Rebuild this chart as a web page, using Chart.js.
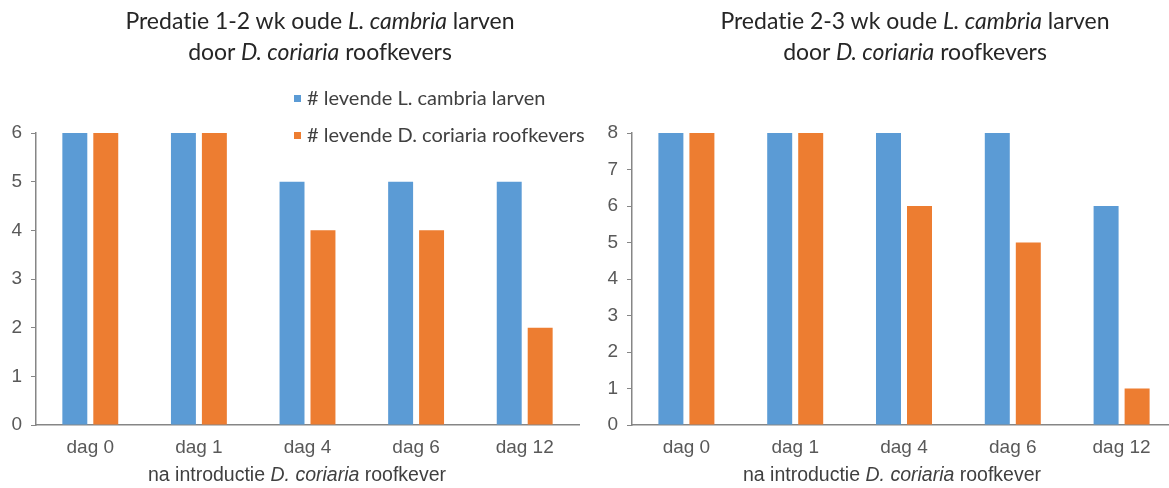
<!DOCTYPE html>
<html>
<head>
<meta charset="utf-8">
<script src="https://cdn.jsdelivr.net/npm/chart.js@4.4.1/dist/chart.umd.min.js"></script>
<style>
  body { margin: 0; width: 1169px; height: 488px; overflow: hidden; background: #fff; position: relative; font-variant-ligatures: none; }
  .panel { position: absolute; top: 0; height: 488px; }
  .title { position: absolute; width: 560px; text-align: center; font-family: Lato, sans-serif; font-size: 23px; line-height: 31px; color: #262626; top: 5px; }
  .xtitle { position: absolute; width: 460px; text-align: center; font-family: "Liberation Sans", Arial, sans-serif; font-size: 19.5px; color: #404040; top: 463px; }
  #legend { position: absolute; left: 294px; top: 84px; font-family: Lato, sans-serif; font-size: 20px; color: #404040; }
  #legend div { height: 37px; line-height: 26px; white-space: nowrap; }
  #legend span { display: inline-block; width: 7px; height: 7px; margin-right: 6px; vertical-align: 3px; }
</style>
</head>
<body>
<div class="panel" style="left:0;width:585px"><canvas id="chartA" width="585" height="488"></canvas></div>
<div class="panel" style="left:585px;width:600px"><canvas id="chartB" width="600" height="488"></canvas></div>

<div class="title" style="left:40px">Predatie 1-2 wk oude <i>L. cambria</i> larven<br>door <i>D. coriaria</i> roofkevers</div>
<div class="title" style="left:635px">Predatie 2-3 wk oude <i>L. cambria</i> larven<br>door <i>D. coriaria</i> roofkevers</div>
<div class="xtitle" style="left:67px">na introductie <i>D. coriaria</i> roofkever</div>
<div class="xtitle" style="left:662px">na introductie <i>D. coriaria</i> roofkever</div>
<div id="legend"></div>

<script>
const categories = ['dag 0', 'dag 1', 'dag 4', 'dag 6', 'dag 12'];
const seriesNames = ['# levende L. cambria larven', '# levende D. coriaria roofkevers'];

// 1-2 weken oude larven
const larvenA = [6, 6, 5, 5, 5];
const keversA = [6, 6, 4, 4, 2];
// 2-3 weken oude larven
const larvenB = [8, 8, 8, 8, 6];
const keversB = [8, 8, 6, 5, 1];

const yMaxA = 6;
const yMaxB = 8;

const BLUE = '#5B9BD5';
const ORANGE = '#ED7D31';
const AXIS = '#868686';
const TICK_FONT = { family: '"Liberation Sans", Arial, sans-serif', size: 19 };

function makeChart(id, larven, kevers, yMax, axisWidth, padRight) {
  const ctx = document.getElementById(id).getContext('2d');
  return new Chart(ctx, {
    type: 'bar',
    data: {
      labels: categories,
      datasets: [
        { label: seriesNames[0], data: larven, backgroundColor: BLUE, borderWidth: 0 },
        { label: seriesNames[1], data: kevers, backgroundColor: ORANGE, borderWidth: 0 }
      ]
    },
    options: {
      responsive: false,
      animation: false,
      categoryPercentage: 0.57,
      barPercentage: 0.806,
      layout: { padding: { top: 133, right: padRight, left: 0, bottom: 0 } },
      plugins: {
        legend: { display: false },
        title: { display: false },
        tooltip: { enabled: false }
      },
      scales: {
        x: {
          grid: { display: false, drawTicks: false },
          border: { display: true, color: AXIS, width: 1.5 },
          ticks: { color: '#595959', font: TICK_FONT, padding: 11, maxRotation: 0 },
          afterFit: (scale) => { scale.height = 63; }
        },
        y: {
          min: 0,
          max: yMax,
          grid: { drawOnChartArea: false, tickLength: 5, color: AXIS },
          border: { display: true, color: AXIS, width: 1.5 },
          ticks: { stepSize: 1, color: '#595959', font: TICK_FONT, padding: 9 },
          afterFit: (scale) => { scale.width = axisWidth; }
        }
      }
    }
  });
}

const chartA = makeChart('chartA', larvenA, keversA, yMaxA, 36, 6);
const chartB = makeChart('chartB', larvenB, keversB, yMaxB, 47, 9);

// legend built from the datasets of the first chart
const legendEl = document.getElementById('legend');
chartA.data.datasets.forEach((ds) => {
  const row = document.createElement('div');
  const box = document.createElement('span');
  box.style.background = ds.backgroundColor;
  row.appendChild(box);
  row.appendChild(document.createTextNode(ds.label));
  legendEl.appendChild(row);
});
</script>
</body>
</html>
